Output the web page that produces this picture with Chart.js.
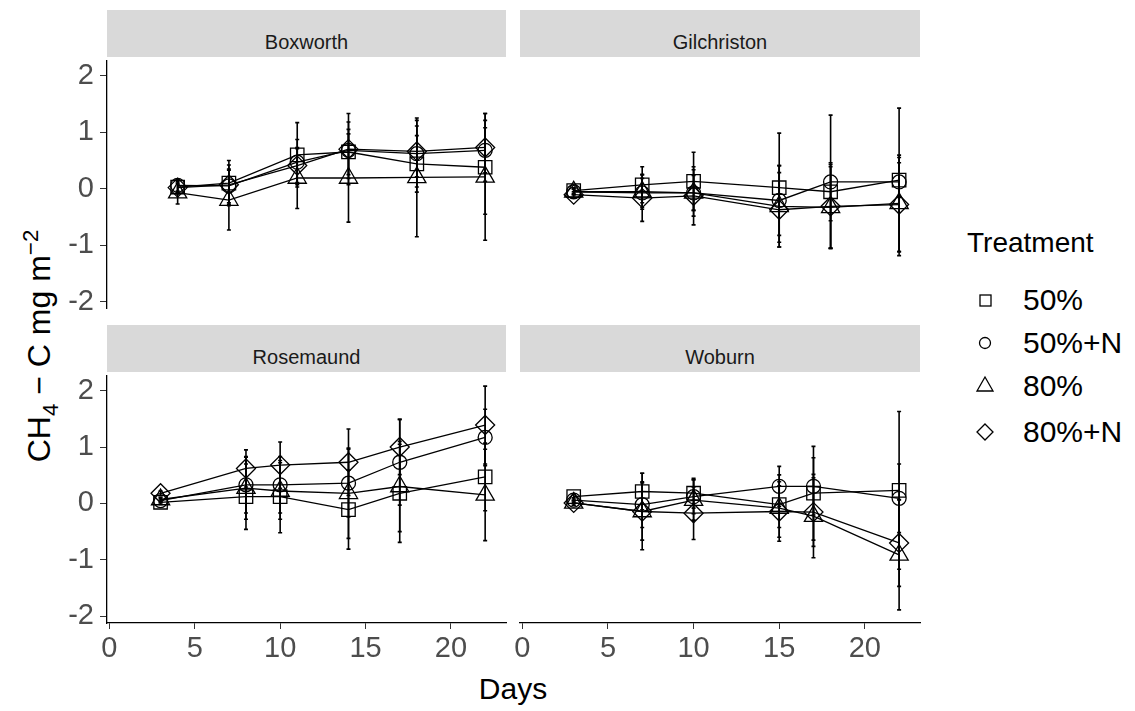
<!DOCTYPE html>
<html>
<head>
<meta charset="utf-8">
<script src="https://cdn.jsdelivr.net/npm/chart.js@4.4.1/dist/chart.umd.min.js"></script>
<style>
    body { margin: 0; background: #fff; width: 1135px; height: 711px; overflow: hidden; position: relative;
           font-family: "Liberation Sans", Arial, sans-serif; }
    canvas { position: absolute; }
    .strip { position: absolute; background: #d9d9d9; color: #1a1a1a; font-size: 20px; text-align: center; }
    .strip span { position: absolute; left: 0; right: 0; line-height: 24px; }
    .title { position: absolute; color: #000; font-size: 30px; white-space: nowrap; }
    #ytitle { left: 41px; top: 346px; font-size: 32px; transform: translate(-50%, -50%) rotate(-90deg); }
    #ytitle sub, #ytitle sup { font-size: 0.7em; }
    #xtitle { left: 513px; top: 689px; transform: translate(-50%, -50%); }
    #legend { position: absolute; left: 967px; top: 223px; }
    .legtitle { font-size: 28px; height: 40px; line-height: 40px; }
    .legitem { position: absolute; left: 0; height: 40px; width: 170px; }
    .legitem svg { position: absolute; left: 0; top: 0; }
    .legitem span { position: absolute; left: 56px; top: 0; line-height: 40px; font-size: 30px; }
</style>
</head>
<body>
<div id="ytitle" class="title">CH<sub>4</sub> &minus; C mg m<sup>&minus;2</sup></div>
<div id="xtitle" class="title">Days</div>
<div id="legend"></div>

<script>
// Akser
const xTicks = [0, 5, 10, 15, 20];
const yTicks = [-2, -1, 0, 1, 2];
const treatments = ['50%', '50%+N', '80%', '80%+N'];

// Boxworth
const daysBoxworth = [4, 7, 11, 14, 18, 22];
const meanBoxworth = [
    [0.03, 0.10, 0.60, 0.65, 0.44, 0.38],
    [0.06, 0.05, 0.47, 0.68, 0.62, 0.68],
    [-0.07, -0.20, 0.19, 0.19, 0.20, 0.21],
    [0.02, 0.07, 0.41, 0.70, 0.66, 0.73]
];
const errBoxworth = [
    [0.12, 0.40, 0.57, 0.40, 0.50, 0.83],
    [0.10, 0.30, 0.40, 0.50, 0.59, 0.40],
    [0.20, 0.53, 0.54, 0.78, 1.05, 1.12],
    [0.08, 0.35, 0.30, 0.63, 0.45, 0.60]
];

// Gilchriston
const daysGilchriston = [3, 7, 10, 15, 18, 22];
const meanGilchriston = [
    [-0.03, 0.07, 0.13, 0.02, -0.05, 0.15],
    [-0.05, -0.07, -0.07, -0.20, 0.12, 0.12],
    [-0.05, -0.05, -0.07, -0.30, -0.32, -0.25],
    [-0.10, -0.16, -0.12, -0.36, -0.30, -0.27]
];
const errGilchriston = [
    [0.05, 0.31, 0.50, 0.94, 0.50, 0.30],
    [0.05, 0.25, 0.40, 0.60, 1.15, 1.27],
    [0.05, 0.30, 0.30, 0.70, 0.70, 0.83],
    [0.05, 0.40, 0.50, 0.64, 0.72, 0.81]
];

// Rosemaund
const daysRosemaund = [3, 8, 10, 14, 17, 22];
const meanRosemaund = [
    [0.02, 0.12, 0.12, -0.11, 0.18, 0.47],
    [0.05, 0.33, 0.33, 0.36, 0.73, 1.17],
    [0.07, 0.27, 0.22, 0.18, 0.30, 0.15],
    [0.18, 0.62, 0.68, 0.73, 1.00, 1.39]
];
const errRosemaund = [
    [0.04, 0.58, 0.64, 0.70, 0.87, 0.60],
    [0.04, 0.50, 0.50, 0.60, 0.76, 0.50],
    [0.04, 0.55, 0.50, 0.80, 0.80, 0.81],
    [0.04, 0.33, 0.41, 0.59, 0.49, 0.69]
];

// Woburn
const daysWoburn = [3, 7, 10, 15, 17, 22];
const meanWoburn = [
    [0.09, 0.18, 0.15, -0.05, 0.15, 0.20],
    [0.03, -0.05, 0.09, 0.27, 0.27, 0.06],
    [-0.02, -0.17, 0.03, -0.11, -0.25, -0.93],
    [-0.02, -0.17, -0.20, -0.17, -0.18, -0.72]
];
const errWoburn = [
    [0.04, 0.32, 0.26, 0.40, 0.82, 1.38],
    [0.04, 0.40, 0.30, 0.35, 0.50, 0.60],
    [0.04, 0.67, 0.35, 0.58, 0.73, 0.96],
    [0.04, 0.50, 0.46, 0.45, 0.60, 0.76]
];

// Symboler (ggplot shape 0, 1, 2, 5)
const pointStyles = ['rect', 'circle', 'triangle', 'rectRot'];
const pointRadii = [9.5, 7, 10.5, 9.5];

const xMin = -0.135, xMax = 23.22;
const yMin = -2.12, yMax = 2.27;

// Feilstolper tegnes med skalaene til diagrammet
const errorBars = {
    id: 'errorBars',
    afterDatasetsDraw(chart) {
        const ctx = chart.ctx;
        const xs = chart.scales.x;
        const ys = chart.scales.y;
        ctx.save();
        ctx.strokeStyle = '#000';
        ctx.lineWidth = 1.6;
        chart.data.datasets.forEach(ds => {
            ds.data.forEach((p, i) => {
                const e = ds.errors[i];
                const x = xs.getPixelForValue(p.x);
                const top = ys.getPixelForValue(p.y + e);
                const bot = ys.getPixelForValue(p.y - e);
                ctx.beginPath();
                ctx.moveTo(x, top); ctx.lineTo(x, bot);
                ctx.moveTo(x - 2, top); ctx.lineTo(x + 2, top);
                ctx.moveTo(x - 2, bot); ctx.lineTo(x + 2, bot);
                ctx.stroke();
            });
        });
        ctx.restore();
    }
};

function makePanel(name, days, means, errs, area, showY, showX) {
    const padL = showY ? 0 : 20;
    const padT = 20, padR = 20;
    const padB = showX ? 0 : 20;
    const axisH = showX ? 60 : 0;
    const left = showY ? 0 : area.left - padL;
    const top = area.top - padT;
    const w = (showY ? area.left : padL) + area.width + padR;
    const h = padT + area.height + padB + axisH;

    const canvas = document.createElement('canvas');
    canvas.width = w;
    canvas.height = h;
    canvas.style.left = left + 'px';
    canvas.style.top = top + 'px';
    canvas.style.width = w + 'px';
    canvas.style.height = h + 'px';
    document.body.appendChild(canvas);

    // Panelstripe
    const strip = document.createElement('div');
    strip.className = 'strip';
    strip.style.left = area.left + 'px';
    strip.style.top = (area.top - 47) + 'px';
    strip.style.width = area.width + 'px';
    strip.style.height = '47px';
    strip.innerHTML = '<span style="top:20px">' + name + '</span>';
    document.body.appendChild(strip);

    const datasets = treatments.map((t, k) => ({
        label: t,
        data: days.map((d, i) => ({ x: d, y: means[k][i] })),
        errors: errs[k],
        borderColor: '#000',
        borderWidth: 1.3,
        backgroundColor: 'rgba(0,0,0,0)',
        pointStyle: pointStyles[k],
        pointRadius: pointRadii[k],
        pointBorderColor: '#000',
        pointBackgroundColor: 'rgba(0,0,0,0)',
        pointBorderWidth: 1.3,
        tension: 0,
        clip: false
    }));

    const tickFont = { family: '"Liberation Sans", Arial, sans-serif', size: 29 };

    new Chart(canvas, {
        type: 'line',
        data: { datasets: datasets },
        plugins: [errorBars],
        options: {
            responsive: false,
            animation: false,
            devicePixelRatio: 1,
            layout: { padding: { left: padL, top: padT, right: padR, bottom: padB } },
            plugins: { legend: { display: false }, tooltip: { enabled: false } },
            scales: {
                x: {
                    type: 'linear',
                    min: xMin,
                    max: xMax,
                    display: showX,
                    afterBuildTicks: s => { s.ticks = xTicks.map(v => ({ value: v })); },
                    afterFit: s => { if (showX) s.height = axisH; },
                    grid: { drawOnChartArea: false, drawTicks: true, tickLength: 6, color: '#333', lineWidth: 1 },
                    border: { display: true, color: '#000', width: 1.3 },
                    ticks: { color: '#4d4d4d', font: tickFont, padding: 3, maxRotation: 0 }
                },
                y: {
                    type: 'linear',
                    min: yMin,
                    max: yMax,
                    display: showY,
                    afterBuildTicks: s => { s.ticks = yTicks.map(v => ({ value: v })); },
                    afterFit: s => { if (showY) s.width = area.left; },
                    grid: { drawOnChartArea: false, drawTicks: true, tickLength: 7, color: '#333', lineWidth: 1 },
                    border: { display: true, color: '#000', width: 1.3 },
                    ticks: { color: '#4d4d4d', font: tickFont, padding: 6 }
                }
            }
        }
    });
}

makePanel('Boxworth', daysBoxworth, meanBoxworth, errBoxworth, { left: 107, top: 57, width: 399, height: 255 }, true, false);
makePanel('Gilchriston', daysGilchriston, meanGilchriston, errGilchriston, { left: 520, top: 57, width: 400, height: 255 }, false, false);
makePanel('Rosemaund', daysRosemaund, meanRosemaund, errRosemaund, { left: 107, top: 372, width: 399, height: 251 }, true, true);
makePanel('Woburn', daysWoburn, meanWoburn, errWoburn, { left: 520, top: 372, width: 400, height: 251 }, false, true);

// Forklaring (Treatment)
const legendShapes = [
    '<rect x="13" y="15" width="11" height="11" />',
    '<circle cx="18" cy="20" r="5.5" />',
    '<polygon points="18,11 26,25 10,25" />',
    '<polygon points="18,12 26,20 18,28 10,20" />'
];
const legendTops = [57, 100, 143, 189];
const legend = document.getElementById('legend');
const legTitle = document.createElement('div');
legTitle.className = 'legtitle';
legTitle.textContent = 'Treatment';
legend.appendChild(legTitle);
treatments.forEach((t, k) => {
    const item = document.createElement('div');
    item.className = 'legitem';
    item.style.top = legendTops[k] + 'px';
    item.innerHTML = '<svg width="40" height="40" style="left:0"><g fill="none" stroke="#000" stroke-width="1.3">' +
        legendShapes[k] + '</g></svg><span>' + t + '</span>';
    legend.appendChild(item);
});
</script>
</body>
</html>
